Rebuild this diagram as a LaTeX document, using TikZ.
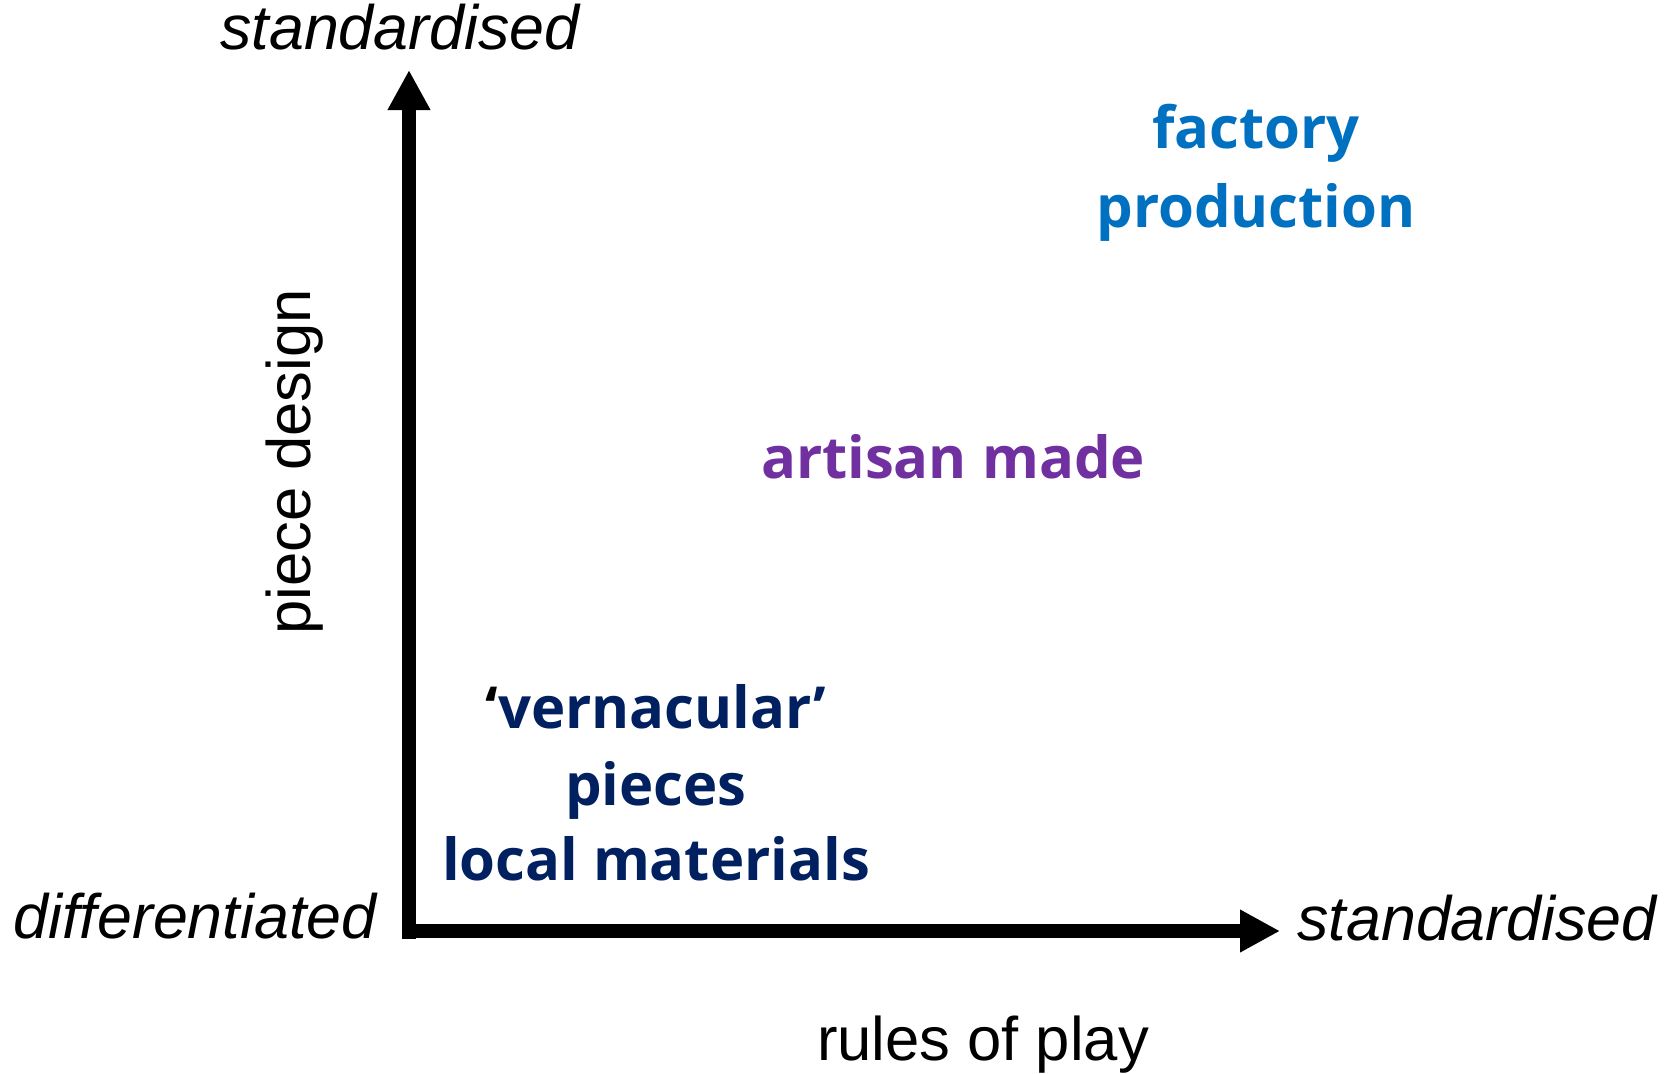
\documentclass[tikz,border=0pt]{standalone}
\usepackage{fontspec}
\setmainfont{Open Sans}
\newfontfamily\labfont{Liberation Sans}
\usetikzlibrary{arrows.meta}
\definecolor{navy}{HTML}{002060}
\definecolor{purp}{HTML}{7030A0}
\definecolor{fblue}{HTML}{0070C0}
\newlength\mytw
\newcommand\mkfs[3]{\settowidth\mytw{\fontsize{10pt}{12pt}\selectfont #2}\pgfmathsetmacro#1{10*#3/\mytw}}
\tikzset{
  axis/.style={line width=14pt, -{Triangle[length=40pt,width=40pt]}},
  lab/.style={inner sep=0pt, anchor=base},
  itlab/.style={lab, font=\labfont\fontsize{\fsI}{\fsI}\selectfont\itshape},
  rglab/.style={lab, font=\labfont\fontsize{\fsR}{\fsR}\selectfont},
  bdlab/.style={lab, font=\fontsize{\fsB}{\fsB}\selectfont\bfseries},
}
\begin{document}
\mkfs\fsI{\labfont\itshape standardised}{359}%
\mkfs\fsR{\labfont rules of play}{332}%
\mkfs\fsB{\bfseries local materials}{428}%
\begin{tikzpicture}[x=1pt,y=-1pt]
\path[use as bounding box, fill=white] (0,0) rectangle (1675,1073);
% axes
\coordinate (ybot) at (409,939);
\coordinate (ytip) at (409,70);
\coordinate (xleft) at (403,931);
\coordinate (xtip) at (1280,931);
\draw[axis] (ybot) -- (ytip);
\draw[axis] (xleft) -- (xtip);
% axis labels
\node[itlab] (ytop) at (400,50) {standardised};
\node[itlab] (xleftlab) at (195,938) {differentiated};
\node[itlab] (xright) at (1477,940) {standardised};
\node[rglab] (xname) at (983,1060) {rules of play};
\node[rglab, rotate=90] (yname) at (310,462) {piece design};
% regions
\node[bdlab, text=fblue] (fac1) at (1256,148) {factory};
\node[bdlab, text=fblue] (fac2) at (1256,227) {production};
\node[bdlab, text=purp] (art) at (953,478) {artisan made};
\node[bdlab, text=navy] (ver1) at (656,728) {{\color{black}‘}vernacular’};
\node[bdlab, text=navy] (ver2) at (656,805) {pieces};
\node[bdlab, text=navy] (ver3) at (656,880) {local materials};
\end{tikzpicture}
\end{document}
